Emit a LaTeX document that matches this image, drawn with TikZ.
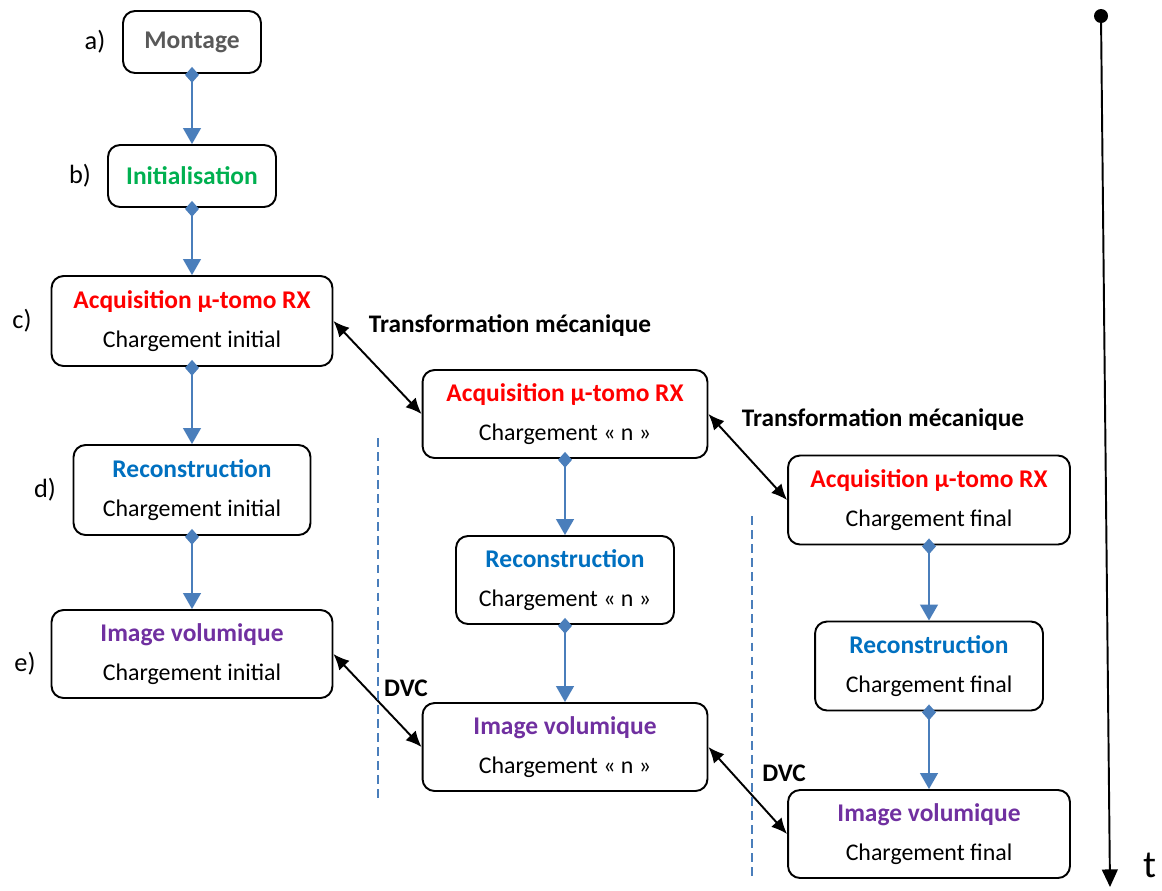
\documentclass[tikz,border=0pt]{standalone}
\usepackage{fontspec}
\setmainfont{Carlito}
\usetikzlibrary{arrows.meta}
\definecolor{flowblue}{HTML}{4A7EBB}
\definecolor{acqred}{HTML}{FF0000}
\definecolor{initgreen}{HTML}{00B050}
\definecolor{recblue}{HTML}{0070C0}
\definecolor{imgpurple}{HTML}{7030A0}
\definecolor{mntgray}{HTML}{595959}
\newcommand{\boxtitle}[2]{\textcolor{#1}{\bfseries\fontsize{14.5}{22}\selectfont #2}}

\begin{document}
\begin{tikzpicture}[x=0.02cm,y=-0.02cm,
  box/.style={draw,rounded corners=0.24cm,line width=1.1pt,align=center,
    font=\fontsize{13.6}{22}\selectfont,inner sep=0pt},
  flow/.style={draw=flowblue,line width=1.1pt,shorten <=-4pt,
    {Diamond[length=9pt,width=8pt,fill=flowblue]}-{Triangle[length=9pt,width=10pt,fill=flowblue]}},
  link/.style={line width=1.1pt,{Latex[length=9pt,width=8pt]}-{Latex[length=9pt,width=8pt]}},
  sep/.style={draw=flowblue,line width=1pt,dash pattern=on 5pt off 3pt},
  steplabel/.style={font=\fontsize{15}{18}\selectfont},
  note/.style={font=\bfseries\fontsize{14.4}{16}\selectfont}]
  \useasboundingbox (0,0) rectangle (1162,890);

  % first column
  \draw (192,42) node[box,minimum width=2.76cm,minimum height=1.24cm] (mnt)
    {\boxtitle{mntgray}{Montage}};
  \draw (192,176) node[box,minimum width=3.36cm,minimum height=1.24cm] (init)
    {\boxtitle{initgreen}{Initialisation}};
  \draw (192,321) node[box,minimum width=5.62cm,minimum height=1.8cm] (acqA)
    {\boxtitle{acqred}{Acquisition µ-tomo RX}\\Chargement initial};
  \draw (192,490) node[box,minimum width=4.74cm,minimum height=1.8cm] (recA)
    {\boxtitle{recblue}{Reconstruction}\\Chargement initial};
  \draw (192,654) node[box,minimum width=5.62cm,minimum height=1.76cm] (imgA)
    {\boxtitle{imgpurple}{Image volumique}\\Chargement initial};

  % second column
  \draw (565,414) node[box,minimum width=5.7cm,minimum height=1.76cm] (acqB)
    {\boxtitle{acqred}{Acquisition µ-tomo RX}\\Chargement « n »};
  \draw (565,580) node[box,minimum width=4.36cm,minimum height=1.76cm] (recB)
    {\boxtitle{recblue}{Reconstruction}\\Chargement « n »};
  \draw (565,747) node[box,minimum width=5.7cm,minimum height=1.76cm] (imgB)
    {\boxtitle{imgpurple}{Image volumique}\\Chargement « n »};

  % third column
  \draw (929,500) node[box,minimum width=5.64cm,minimum height=1.78cm] (acqC)
    {\boxtitle{acqred}{Acquisition µ-tomo RX}\\Chargement final};
  \draw (929,666) node[box,minimum width=4.56cm,minimum height=1.78cm] (recC)
    {\boxtitle{recblue}{Reconstruction}\\Chargement final};
  \draw (929,834) node[box,minimum width=5.64cm,minimum height=1.76cm] (imgC)
    {\boxtitle{imgpurple}{Image volumique}\\Chargement final};

  % step letters
  \draw (95,42) node[steplabel] (la) {a)};
  \draw (80,176) node[steplabel] (lb) {b)};
  \draw (22,321) node[steplabel] (lc) {c)};
  \draw (45,490) node[steplabel] (ld) {d)};
  \draw (25,664) node[steplabel] (le) {e)};

  % flow inside each column
  \draw[flow] (mnt.south) -- (init.north);
  \draw[flow] (init.south) -- (acqA.north);
  \draw[flow] (acqA.south) -- (recA.north);
  \draw[flow] (recA.south) -- (imgA.north);
  \draw[flow] (acqB.south) -- (recB.north);
  \draw[flow] (recB.south) -- (imgB.north);
  \draw[flow] (acqC.south) -- (recC.north);
  \draw[flow] (recC.south) -- (imgC.north);

  % links between columns
  \draw[link] (acqA.east) -- (acqB.west);
  \draw[link] (acqB.east) -- (acqC.west);
  \draw[link] (imgA.east) -- (imgB.west);
  \draw[link] (imgB.east) -- (imgC.west);
  \draw (510,326) node[note] (trA) {Transformation mécanique};
  \draw (883,420) node[note] (trB) {Transformation mécanique};
  \draw (406,688) node[note] (dvcA) {DVC};
  \draw (784,773) node[note] (dvcB) {DVC};

  % separators
  \coordinate (sepAtop) at (378,438);
  \coordinate (sepAbot) at (378,800);
  \coordinate (sepBtop) at (752,516);
  \coordinate (sepBbot) at (752,880);
  \draw[sep] (sepAtop) -- (sepAbot);
  \draw[sep] (sepBtop) -- (sepBbot);

  % time axis
  \coordinate (tstart) at (1101,16);
  \coordinate (tend) at (1110,887);
  \fill (tstart) circle (0.14cm);
  \draw[line width=1.1pt,-{Triangle[length=10pt,width=9pt]}] (tstart) -- (tend);
  \draw (1150,865) node[font=\fontsize{22}{24}\selectfont] (tlab) {t};
\end{tikzpicture}
\end{document}
